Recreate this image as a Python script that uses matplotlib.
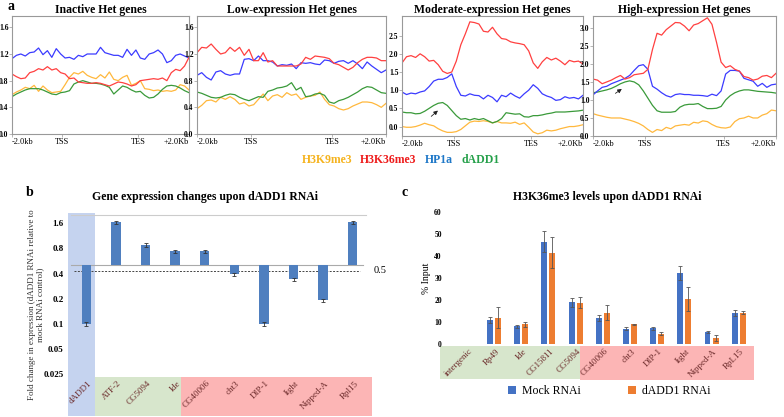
import numpy as np
import matplotlib.pyplot as plt
from matplotlib.patches import Rectangle
import matplotlib.transforms as mtransforms

plt.rcParams['font.family'] = ['Liberation Serif', 'DejaVu Serif']

W, H = 784, 417

# ---------------- panel a: metagene profiles (41 points from -2kb to +2kb) ----------------
inactive_hp1a = [1.13, 1.18, 1.20, 1.17, 1.22, 1.23, 1.29, 1.19, 1.25, 1.15, 1.28, 1.20, 1.14, 1.15,
                 1.12, 1.18, 1.16, 1.20, 1.20, 1.20, 1.30, 1.22, 1.20, 1.18, 1.18, 1.15, 1.27, 1.18,
                 1.26, 1.14, 1.12, 1.20, 1.22, 1.26, 1.20, 1.07, 1.10, 1.18, 1.20, 1.17, 1.14]
inactive_k36 = [0.90, 0.86, 0.83, 0.84, 0.92, 0.94, 0.98, 0.96, 1.01, 0.96, 0.98, 0.92, 0.90, 0.83,
                0.84, 0.78, 0.77, 0.76, 0.76, 0.77, 0.76, 0.74, 0.72, 0.75, 0.78, 0.77, 0.75, 0.72,
                0.74, 0.80, 0.81, 0.82, 0.83, 0.82, 0.84, 0.80, 0.92, 0.97, 0.95, 1.02, 1.15]
inactive_k9 = [0.59, 0.63, 0.66, 0.70, 0.68, 0.73, 0.64, 0.72, 0.66, 0.62, 0.63, 0.64, 0.74, 0.85,
               0.92, 0.90, 0.94, 0.88, 0.85, 0.83, 0.89, 0.84, 0.93, 0.82, 0.80, 0.85, 0.88, 0.73,
               0.76, 0.80, 0.68, 0.67, 0.65, 0.66, 0.64, 0.65, 0.64, 0.66, 0.74, 0.72, 0.66]
inactive_dadd1 = [0.56, 0.60, 0.63, 0.66, 0.68, 0.68, 0.68, 0.66, 0.63, 0.60, 0.59, 0.62, 0.63, 0.65,
                  0.75, 0.78, 0.80, 0.78, 0.76, 0.76, 0.75, 0.73, 0.70, 0.60, 0.66, 0.72, 0.70, 0.66,
                  0.63, 0.64, 0.58, 0.54, 0.55, 0.60, 0.67, 0.72, 0.73, 0.72, 0.69, 0.65, 0.62]

low_k36 = [1.22, 1.30, 1.29, 1.35, 1.27, 1.20, 1.22, 1.30, 1.24, 1.30, 1.18, 1.27, 1.10, 1.10,
           1.22, 1.08, 1.10, 1.02, 1.02, 1.02, 1.02, 1.02, 1.05, 1.15, 1.12, 1.17, 1.16, 1.15,
           1.13, 1.06, 1.04, 1.00, 0.96, 1.00, 1.07, 1.12, 1.15, 1.15, 1.14, 1.10, 1.10]
low_hp1a = [0.88, 0.92, 0.85, 0.81, 0.93, 0.95, 0.90, 0.88, 0.90, 0.90, 1.12, 1.13, 1.10, 1.17,
            1.10, 1.10, 1.08, 1.02, 1.04, 1.03, 1.05, 0.98, 1.07, 1.06, 1.07, 1.05, 1.04, 1.11,
            1.10, 1.06, 1.09, 1.10, 1.06, 1.10, 1.05, 0.98, 1.08, 1.02, 0.97, 0.92, 0.96]
low_dadd1 = [0.63, 0.61, 0.58, 0.55, 0.54, 0.55, 0.58, 0.60, 0.59, 0.55, 0.52, 0.50, 0.53, 0.56,
             0.55, 0.64, 0.66, 0.69, 0.70, 0.72, 0.77, 0.66, 0.70, 0.56, 0.57, 0.60, 0.61, 0.58,
             0.48, 0.46, 0.50, 0.52, 0.55, 0.59, 0.63, 0.68, 0.71, 0.70, 0.66, 0.62, 0.61]
low_k9 = [0.38, 0.43, 0.50, 0.51, 0.48, 0.55, 0.52, 0.56, 0.52, 0.45, 0.47, 0.42, 0.44, 0.52,
          0.60, 0.50, 0.57, 0.59, 0.55, 0.62, 0.58, 0.60, 0.52, 0.55, 0.57, 0.58, 0.63, 0.52,
          0.44, 0.42, 0.38, 0.36, 0.38, 0.42, 0.45, 0.48, 0.48, 0.47, 0.44, 0.40, 0.46]

mod_k36 = [1.75, 1.92, 1.95, 1.90, 2.00, 1.92, 1.80, 1.82, 1.70, 1.52, 1.46, 1.50, 1.80, 2.25,
           2.55, 2.88, 2.86, 2.82, 2.62, 2.60, 2.73, 2.55, 2.42, 2.40, 2.33, 2.30, 2.28, 2.25,
           2.08, 1.75, 1.60, 1.78, 1.90, 1.83, 1.88, 1.80, 1.70, 1.82, 1.78, 1.80, 1.72]
mod_hp1a = [0.95, 0.88, 0.92, 0.90, 0.95, 0.98, 1.10, 1.25, 1.30, 1.30, 1.35, 1.45, 1.10, 0.86,
            0.84, 0.90, 0.86, 0.85, 0.76, 0.86, 0.80, 0.68, 0.86, 0.82, 0.92, 0.84, 0.78, 0.90,
            1.00, 1.15, 1.05, 0.90, 0.84, 0.80, 0.72, 0.74, 0.82, 0.78, 0.80, 0.76, 0.86]
mod_dadd1 = [0.40, 0.38, 0.38, 0.35, 0.36, 0.42, 0.50, 0.58, 0.64, 0.66, 0.58, 0.44, 0.30, 0.20,
             0.22, 0.18, 0.22, 0.19, 0.22, 0.16, 0.10, 0.14, 0.22, 0.38, 0.36, 0.34, 0.35, 0.27,
             0.26, 0.30, 0.30, 0.32, 0.35, 0.37, 0.40, 0.40, 0.40, 0.41, 0.42, 0.43, 0.45]
mod_k9 = [0.00, -0.02, -0.02, 0.00, 0.04, 0.09, 0.05, 0.02, -0.06, -0.12, -0.16, -0.16, -0.14, -0.08,
          0.02, 0.12, 0.15, 0.14, 0.16, 0.14, 0.10, 0.14, 0.10, 0.10, 0.09, 0.12, 0.06, 0.10,
          -0.02, -0.15, -0.20, -0.17, -0.10, -0.12, -0.10, -0.06, -0.03, 0.00, 0.00, 0.02, 0.05]

high_k36 = [1.58, 1.55, 1.45, 1.50, 1.55, 1.62, 1.68, 1.58, 1.62, 1.70, 1.72, 1.74, 1.85, 2.40,
            2.85, 2.80, 2.95, 3.05, 3.15, 3.14, 3.05, 2.92, 3.08, 3.12, 3.20, 3.28, 3.10, 2.60,
            2.05, 1.90, 1.95, 1.85, 1.80, 1.65, 1.62, 1.55, 1.58, 1.66, 1.68, 1.62, 1.74]
high_hp1a = [1.14, 1.25, 1.35, 1.38, 1.45, 1.50, 1.55, 1.60, 1.68, 1.82, 1.95, 1.98, 1.85, 1.38,
             1.30, 1.20, 1.12, 1.08, 1.15, 1.17, 1.15, 1.15, 1.13, 1.13, 1.12, 1.10, 1.16, 1.12,
             1.25, 1.72, 1.82, 1.82, 1.80, 1.60, 1.56, 1.52, 1.38, 1.46, 1.35, 1.42, 1.44]
high_dadd1 = [1.20, 1.22, 1.25, 1.28, 1.32, 1.38, 1.45, 1.50, 1.53, 1.50, 1.42, 1.25, 1.05, 0.85,
              0.70, 0.66, 0.66, 0.66, 0.68, 0.80, 0.86, 0.88, 0.88, 0.90, 0.82, 0.76, 0.76, 0.77,
              0.82, 1.00, 1.12, 1.20, 1.25, 1.28, 1.28, 1.26, 1.24, 1.23, 1.22, 1.21, 1.19]
high_k9 = [0.62, 0.58, 0.55, 0.52, 0.50, 0.50, 0.50, 0.47, 0.44, 0.40, 0.35, 0.28, 0.18, 0.10,
           0.18, 0.15, 0.24, 0.20, 0.28, 0.30, 0.32, 0.30, 0.38, 0.36, 0.42, 0.40, 0.32, 0.26,
           0.23, 0.22, 0.25, 0.40, 0.48, 0.50, 0.55, 0.50, 0.50, 0.58, 0.62, 0.72, 0.70]

profile_titles = ['Inactive Het genes', 'Low-expression Het genes',
                  'Moderate-expression Het genes', 'High-expression Het genes']
profile_ticks = ['-2.0kb', 'TSS', 'TES', '+2.0Kb']
mark_names = ['H3K9me3', 'H3K36me3', 'HP1a', 'dADD1']

# ---------------- panel b: RT-qPCR fold change ----------------
b_genes = ['dADD1', 'ATF-2', 'CG5094', 'Ide', 'CG40006', 'cht3', 'DIP-1', 'light', 'Nipped-A', 'Rpl15']
b_fold = [0.10, 1.65, 0.88, 0.74, 0.74, 0.39, 0.10, 0.34, 0.19, 1.65]
b_err = [0.005, 0.06, 0.04, 0.03, 0.03, 0.016, 0.005, 0.015, 0.008, 0.06]
b_yticks = [0.025, 0.05, 0.1, 0.2, 0.4, 0.8, 1.6]

# ---------------- panel c: H3K36me3 ChIP-qPCR ----------------
c_genes = ['intergenic', 'Rp49', 'Ide', 'CG15811', 'CG5094', 'CG40006', 'cht3', 'DIP-1',
           'light', 'Nipped-A', 'RpL15']
c_mock = [0.0, 11.0, 8.0, 46.5, 19.0, 11.8, 7.0, 7.2, 32.2, 5.3, 14.0]
c_mock_err = [0.0, 1.3, 0.8, 4.8, 2.0, 1.3, 0.8, 0.7, 3.3, 0.5, 1.3]
c_dadd1 = [0.0, 12.0, 9.0, 41.5, 18.8, 14.3, 8.9, 4.7, 20.3, 2.8, 14.3]
c_dadd1_err = [0.0, 4.9, 1.2, 7.0, 2.6, 3.5, 0.3, 0.7, 5.5, 1.3, 0.5]

col_k9, col_k36, col_hp1a, col_dadd1 = '#ffb83d', '#ff4040', '#3b3bff', '#3a9a3a'
leg_cols = ['#f5b31e', '#ee1c1c', '#1f78c8', '#25a04a']


def box(l, t, r, b):
    return [l / W, 1 - b / H, (r - l) / W, (b - t) / H]


fig = plt.figure(figsize=(W / 100, H / 100), dpi=100)

boxes = [box(12, 16, 189, 134), box(197, 16, 386, 134), box(402, 16, 583, 136), box(593, 16, 776, 136)]
ylims = [(0, 1.77), (0, 1.77), (-0.26, 3.04), (0, 3.33)]
yticks = [np.arange(0, 1.7, 0.4), np.arange(0, 1.7, 0.4), np.arange(0, 2.6, 0.5), np.arange(0, 3.1, 0.5)]
data = [(inactive_k9, inactive_k36, inactive_hp1a, inactive_dadd1),
        (low_k9, low_k36, low_hp1a, low_dadd1),
        (mod_k9, mod_k36, mod_hp1a, mod_dadd1),
        (high_k9, high_k36, high_hp1a, high_dadd1)]

for i in range(4):
    ax = fig.add_axes(boxes[i])
    k9, k36, hp, dd = data[i]
    x = np.linspace(0, 1, len(k9))
    ax.plot(x, k9, color=col_k9, lw=0.9)
    ax.plot(x, dd, color=col_dadd1, lw=0.9)
    ax.plot(x, hp, color=col_hp1a, lw=0.9)
    ax.plot(x, k36, color=col_k36, lw=0.9)
    ax.set_xlim(0, 1)
    ax.set_ylim(*ylims[i])
    ax.set_xticks([0, 0.285, 0.714, 1])
    ax.set_xticklabels(profile_ticks, fontsize=6)
    xl = ax.get_xticklabels()
    xl[0].set_ha('left')
    xl[-1].set_ha('right')
    ax.set_yticks(yticks[i])
    ax.set_yticklabels(['%.1f' % v for v in yticks[i]], fontsize=5.5, fontweight='bold')
    ax.tick_params(length=2, width=0.5, color='#999999', pad=1)
    ax.tick_params(axis='y', pad=0.5)
    for s in ax.spines.values():
        s.set_color('#999999')
        s.set_linewidth(0.8)
    ax.set_title(profile_titles[i], fontsize=8.5, fontweight='bold', pad=2)
    if i == 2:
        ax.annotate('', xy=(0.21, 0.49), xytext=(0.15, 0.23),
                    arrowprops=dict(arrowstyle='-|>', color='#222222', lw=0.6, mutation_scale=6))
    if i == 3:
        ax.annotate('', xy=(0.17, 1.35), xytext=(0.11, 1.14),
                    arrowprops=dict(arrowstyle='-|>', color='#222222', lw=0.6, mutation_scale=6))

lx = [302, 360, 425, 461]
for name, c, px in zip(mark_names, leg_cols, lx):
    fig.text(px / W, 1 - 160 / H, name, color=c, fontsize=8.5, fontweight='bold', va='center')

fig.text(7 / W, 1 - 6 / H, 'a', fontsize=10, fontweight='bold', va='center')
fig.text(26 / W, 1 - 193 / H, 'b', fontsize=10, fontweight='bold', va='center')
fig.text(401 / W, 1 - 193 / H, 'c', fontsize=10, fontweight='bold', va='center')

# ---------------- panel b ----------------
axb = fig.add_axes(box(68, 213, 372, 416))
axb.set_yscale('log', base=2)
axb.set_xlim(-0.62, 9.65)
axb.set_ylim(0.0078, 2.13)
for s in axb.spines.values():
    s.set_visible(False)
trb = mtransforms.blended_transform_factory(axb.transData, axb.transAxes)
axb.add_patch(Rectangle((-0.62, 0), 0.92, 1, transform=trb, color='#c5d3ef', zorder=0, lw=0))
axb.add_patch(Rectangle((0.30, 0), 2.89, 0.194, transform=trb, color='#d7e6cc', zorder=0, lw=0))
axb.add_patch(Rectangle((3.19, 0), 6.46, 0.194, transform=trb, color='#fcb5b5', zorder=0, lw=0))
axb.axhline(2.0, color='#cccccc', lw=0.8, xmin=0.01, xmax=0.98)
axb.axhline(0.5, color='#aaaaaa', lw=0.8, xmin=0.01, xmax=0.97)
axb.axhline(0.43, color='#444444', lw=0.7, ls=(0, (2, 1.5)), xmin=0.02, xmax=0.96)
axb.text(9.72, 0.43, '0.5', fontsize=7.5, va='center', ha='left')
xb = np.arange(len(b_genes))
axb.bar(xb, np.array(b_fold) - 0.5, bottom=0.5, width=0.32, color='#4f7fbf', zorder=2)
axb.errorbar(xb, b_fold, yerr=b_err, fmt='none', ecolor='#333333', elinewidth=0.6,
             capsize=1.5, capthick=0.6, zorder=3)
axb.set_xticks([])
axb.set_yticks(b_yticks)
axb.set_yticklabels([str(v) for v in b_yticks], fontsize=6.5, fontweight='bold')
axb.tick_params(axis='y', length=0, pad=3)
axb.minorticks_off()
for xi, g in zip(xb, b_genes):
    axb.text(xi + 0.05, 0.18, g, transform=trb, rotation=45, ha='right', va='top',
             fontsize=6.5, color='#6b2a2a', rotation_mode='anchor')
fig.text(36 / W, 1 - 305 / H,
         'Fold change in expression (dADD1 RNAi relative to\nmock RNAi control)',
         rotation=90, ha='center', va='center', fontsize=6.5, color='#333333', linespacing=1.1)
fig.text(205 / W, 1 - 197 / H, 'Gene expression changes upon dADD1 RNAi',
         ha='center', va='center', fontsize=8.5, fontweight='bold')

# ---------------- panel c ----------------
axc = fig.add_axes(box(446, 212, 760, 344))
axc.set_xlim(-0.765, 10.78)
axc.set_ylim(0, 60)
for s in axc.spines.values():
    s.set_visible(False)
axc.add_patch(Rectangle((-0.985, -16.0), 5.145, 15.1, color='#d7e6cc', zorder=0, lw=0, clip_on=False))
axc.add_patch(Rectangle((4.16, -16.4), 6.4, 15.5, color='#fcb5b5', zorder=0, lw=0, clip_on=False))
xc = np.arange(len(c_genes))
axc.bar(xc - 0.15, c_mock, width=0.22, color='#4472c4', label='Mock RNAi', zorder=2)
axc.bar(xc + 0.15, c_dadd1, width=0.22, color='#ed7d31', label='dADD1 RNAi', zorder=2)
axc.errorbar(xc[1:] - 0.15, c_mock[1:], yerr=c_mock_err[1:], fmt='none', ecolor='#555555',
             elinewidth=0.6, capsize=1.5, capthick=0.6, zorder=3)
axc.errorbar(xc[1:] + 0.15, c_dadd1[1:], yerr=c_dadd1_err[1:], fmt='none', ecolor='#555555',
             elinewidth=0.6, capsize=1.5, capthick=0.6, zorder=3)
axc.set_xticks([])
axc.set_yticks(range(0, 61, 10))
axc.set_yticklabels([str(v) for v in range(0, 61, 10)], fontsize=5.5, fontweight='bold')
axc.tick_params(axis='y', length=0, pad=3)
axc.set_ylabel('% Input', fontsize=7, labelpad=2)
for xi, g in zip(xc, c_genes):
    axc.text(xi + 0.05, -1.5, g, rotation=45, ha='right', va='top', fontsize=6.5,
             color='#6b2a2a', rotation_mode='anchor', clip_on=False)
axc.legend(loc='center', bbox_to_anchor=(609 / W, 1 - 391 / H), bbox_transform=fig.transFigure,
           ncol=2, frameon=False, fontsize=8.5, handlelength=0.7, handleheight=0.7,
           columnspacing=4, handletextpad=0.5)
fig.text(607 / W, 1 - 197 / H, 'H3K36me3 levels upon dADD1 RNAi',
         ha='center', va='center', fontsize=8.5, fontweight='bold')

fig.savefig('out.png', dpi=100)
